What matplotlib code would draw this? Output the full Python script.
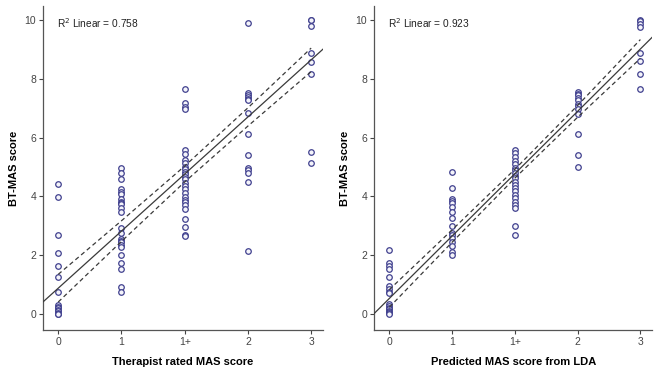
import matplotlib.pyplot as plt
import numpy as np

plt.rcParams['font.family'] = ['Liberation Sans', 'DejaVu Sans']

# category positions on x axis: 0, 1, 1+, 2, 3
categories = ['0', '1', '1+', '2', '3']

# BT-MAS score per therapist category (left panel)
therapist_scores = [
    [4.41, 3.99, 2.68, 2.06, 1.63, 1.25, 0.76, 0.30, 0.25, 0.20, 0.15, 0.10, 0.05, 0.02, 0.0],
    [4.98, 4.81, 4.59, 4.25, 4.16, 4.07, 3.91, 3.80, 3.76, 3.73, 3.59, 3.46, 2.94, 2.74, 2.54,
     2.50, 2.44, 2.35, 2.29, 2.01, 1.72, 1.54, 0.91, 0.74],
    [7.64, 7.19, 7.05, 6.97, 5.56, 5.44, 5.24, 5.12, 5.01, 4.92, 4.84, 4.76, 4.67, 4.58, 4.47,
     4.35, 4.24, 4.13, 3.99, 3.88, 3.81, 3.71, 3.56, 3.22, 2.97, 2.68, 2.65],
    [9.89, 7.51, 7.45, 7.39, 7.32, 7.26, 6.83, 6.11, 5.39, 4.98, 4.90, 4.81, 4.50, 2.14],
    [10.0, 9.98, 9.80, 8.87, 8.58, 8.16, 5.51, 5.12],
]

# BT-MAS score per LDA predicted category (right panel)
lda_scores = [
    [2.17, 1.74, 1.64, 1.54, 1.27, 0.95, 0.84, 0.76, 0.72, 0.34, 0.28, 0.22, 0.17, 0.12, 0.07,
     0.03, 0.0],
    [4.82, 4.29, 3.90, 3.83, 3.76, 3.64, 3.46, 3.25, 3.00, 2.77, 2.68, 2.60, 2.45, 2.32, 2.12, 2.00],
    [5.59, 5.49, 5.34, 5.20, 5.09, 4.98, 4.89, 4.80, 4.71, 4.62, 4.50, 4.40, 4.29, 4.17, 4.04,
     3.96, 3.81, 3.71, 3.60, 2.99, 2.68],
    [7.55, 7.49, 7.43, 7.35, 7.26, 7.15, 7.06, 6.98, 6.81, 6.13, 5.40, 5.00],
    [10.0, 9.95, 9.86, 9.77, 8.87, 8.60, 8.17, 7.66],
]

# fit lines (intercept, slope) and CI half widths at each category
fit_left = (0.88, 1.94)
ci_left = [0.47, 0.35, 0.27, 0.31, 0.40]
fit_right = (0.53, 2.12)
ci_right = [0.30, 0.21, 0.15, 0.20, 0.32]

r2_left = 0.758
r2_right = 0.923

point_color = '#41418f'
line_color = '#3a3a3a'

fig = plt.figure(figsize=(6.67, 3.75), dpi=100)
ax1 = fig.add_axes([0.0645, 0.12, 0.42, 0.864])
ax2 = fig.add_axes([0.561, 0.12, 0.417, 0.864])


def draw_panel(ax, scores, fit, ci, r2, xlabel):
    for i, vals in enumerate(scores):
        ax.scatter([i] * len(vals), vals, s=16, facecolors='#f4f4fa',
                   edgecolors=point_color, linewidths=0.9, zorder=3)

    xlim = (-0.24, 4.19)
    xs = np.array(xlim)
    ax.plot(xs, fit[0] + fit[1] * xs, color=line_color, lw=0.9, zorder=4)

    pos = np.arange(len(categories))
    mid = fit[0] + fit[1] * pos
    ax.plot(pos, mid + np.array(ci), color=line_color, lw=0.9,
            dashes=(3.5, 2.5), zorder=4)
    ax.plot(pos, mid - np.array(ci), color=line_color, lw=0.9,
            dashes=(3.5, 2.5), zorder=4)

    ax.set_xlim(*xlim)
    ax.set_ylim(-0.54, 10.47)
    ax.set_xticks(pos)
    ax.set_xticklabels(categories)
    ax.set_yticks([0, 2, 4, 6, 8, 10])

    for side in ['top', 'right']:
        ax.spines[side].set_visible(False)
    for side in ['left', 'bottom']:
        ax.spines[side].set_color('#555555')
        ax.spines[side].set_linewidth(0.9)
    ax.tick_params(labelsize=7.5, colors='#444444', length=3, width=0.8, pad=2)

    ax.set_xlabel(xlabel, fontsize=8, fontweight='bold', labelpad=7)
    ax.set_ylabel('BT-MAS score', fontsize=8, fontweight='bold', labelpad=4)

    ax.text(0.05, 0.947, 'R$^2$ Linear = %.3f' % r2, transform=ax.transAxes,
            fontsize=7.3, color='#222222', va='center')


draw_panel(ax1, therapist_scores, fit_left, ci_left, r2_left,
           'Therapist rated MAS score')
draw_panel(ax2, lda_scores, fit_right, ci_right, r2_right,
           'Predicted MAS score from LDA')

plt.savefig('out.png', dpi=100)
